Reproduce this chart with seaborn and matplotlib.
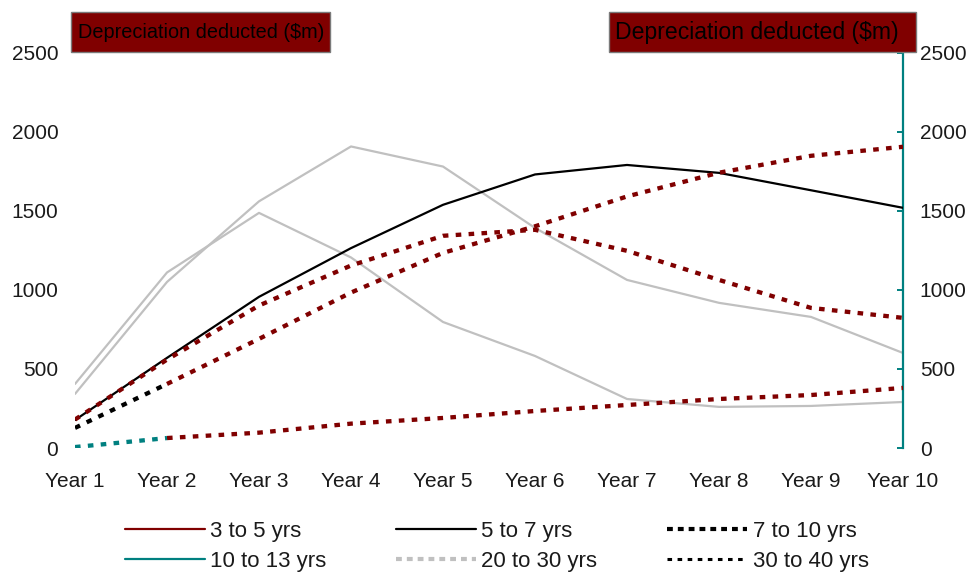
import numpy as np
import pandas as pd
import matplotlib
matplotlib.use("Agg")
import matplotlib.pyplot as plt
from matplotlib.lines import Line2D
from matplotlib.patches import Rectangle
import seaborn as sns

# ---- data ($m deducted per year) ----
years = ["Year 1", "Year 2", "Year 3", "Year 4", "Year 5",
         "Year 6", "Year 7", "Year 8", "Year 9", "Year 10"]

grey_high = [342, 1050, 1560, 1907, 1780, 1392, 1063, 918, 829, 601]
grey_low = [405, 1110, 1487, 1205, 797, 582, 310, 260, 266, 291]
black_solid = [177, 570, 956, 1264, 1538, 1730, 1790, 1740, 1630, 1519]
red_rising = [np.nan, 405, 690, 983, 1234, 1402, 1591, 1741, 1848, 1905]
red_peak = [180, 559, 901, 1154, 1342, 1380, 1247, 1063, 886, 823]
red_low = [np.nan, 63, 97, 154, 190, 234, 272, 310, 335, 380]
black_dotted = [127, 405] + [np.nan] * 8
teal_dotted = [6, 63] + [np.nan] * 8

legend_labels = ["3 to 5 yrs", "5 to 7 yrs", "7 to 10 yrs",
                 "10 to 13 yrs", "20 to 30 yrs", "30 to 40 yrs"]
y_ticks = [0, 500, 1000, 1500, 2000, 2500]

# ---- style ----
DARK_RED = "#800000"
TEAL = "#008080"
GREY = "#c0c0c0"
FONT = ["Liberation Sans", "DejaVu Sans"]

sns.set_theme(style="white")
plt.rcParams["font.family"] = FONT
plt.rcParams["text.color"] = "#1a1a1a"

W, H = 976, 574
fig = plt.figure(figsize=(W / 100, H / 100), dpi=100)
ax = fig.add_axes([75 / W, 1 - 448 / H, (903 - 75) / W, (448 - 52.7) / H])

pos = np.arange(len(years))
df = pd.DataFrame({
    "pos": pos,
    "grey_high": grey_high, "grey_low": grey_low, "black_solid": black_solid,
    "red_rising": red_rising, "red_peak": red_peak, "red_low": red_low,
    "black_dotted": black_dotted, "teal_dotted": teal_dotted,
})

DOT = (0, (1.3, 1.7))

def draw(col, **kw):
    sub = df[["pos", col]].dropna()
    sns.lineplot(data=sub, x="pos", y=col, ax=ax, legend=False, **kw)

draw("grey_high", color=GREY, lw=1.6, zorder=2)
draw("grey_low", color=GREY, lw=1.6, zorder=2)
draw("black_solid", color="black", lw=1.6, zorder=3)
draw("red_rising", color=DARK_RED, lw=3.1, linestyle=DOT, zorder=4)
draw("red_peak", color=DARK_RED, lw=3.1, linestyle=DOT, zorder=4)
draw("red_low", color=DARK_RED, lw=3.1, linestyle=DOT, zorder=4)
draw("black_dotted", color="black", lw=3.1, linestyle=DOT, zorder=5)
draw("teal_dotted", color=TEAL, lw=3.1, linestyle=DOT, zorder=5)

ax.set_xlim(0, len(years) - 1)
ax.set_ylim(y_ticks[0], y_ticks[-1])
ax.set_xticks(pos)
ax.set_xticklabels(years)
ax.set_yticks(y_ticks)
ax.set_xlabel("")
ax.set_ylabel("")

for side in ["left", "top", "bottom"]:
    ax.spines[side].set_visible(False)
ax.spines["right"].set_visible(True)
ax.spines["right"].set_color(TEAL)
ax.spines["right"].set_linewidth(1.6)

ax.tick_params(axis="x", length=0, pad=17, labelsize=15, colors="#1a1a1a")
ax.tick_params(axis="y", which="major", left=False, right=True,
               labelleft=True, labelright=True, direction="in",
               length=4, width=1.4, color=TEAL, pad=12,
               labelsize=15, labelcolor="#1a1a1a")
ax.grid(False)

# ---- axis title boxes ----
def title_box(x0, x1, text_x, size):
    fig.patches.append(Rectangle((x0 / W, 1 - 52 / H), (x1 - x0) / W, 40 / H,
                                 transform=fig.transFigure, facecolor=DARK_RED,
                                 edgecolor="#7a7a7a", lw=1.0, zorder=10))
    fig.text(text_x / W, 1 - 32 / H, "Depreciation deducted ($m)",
             ha="left", va="center", fontsize=size, color="black", zorder=11)

title_box(71, 330, 78, 14.3)
title_box(609, 916, 615, 16.6)

# ---- legend ----
handles = [
    Line2D([], [], color=DARK_RED, lw=1.6),
    Line2D([], [], color="black", lw=1.6),
    Line2D([], [], color="black", lw=3.0, linestyle=(0, (1.4, 1.2))),
    Line2D([], [], color=TEAL, lw=1.6),
    Line2D([], [], color=GREY, lw=3.0, linestyle=(0, (1.4, 1.2))),
    Line2D([], [], color="black", lw=2.2, linestyle=(0, (1.5, 1.8))),
]
order = [0, 3, 1, 4, 2, 5]
fig.legend([handles[i] for i in order], [legend_labels[i] for i in order],
           ncol=3, loc="upper left", bbox_to_anchor=(125 / W, 1 - 521 / H),
           frameon=False, borderpad=0, borderaxespad=0, fontsize=16,
           handlelength=3.6, handletextpad=0.23, columnspacing=3.15,
           labelspacing=0.4)

fig.savefig("out.png", dpi=100)
